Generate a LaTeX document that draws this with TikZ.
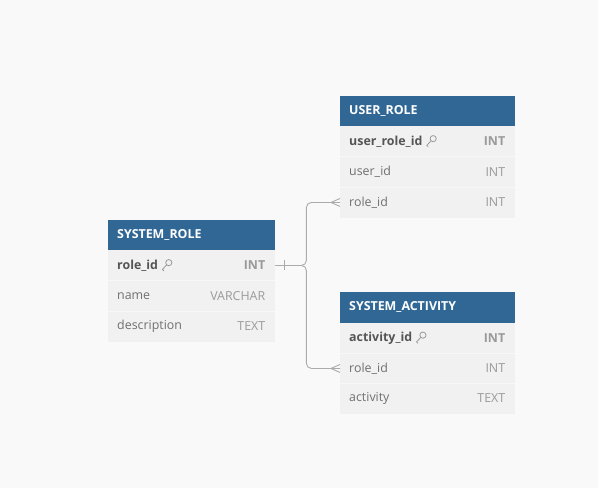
\documentclass[tikz,border=0pt]{standalone}
\usepackage{fontspec}
\setmainfont{Open Sans}
\usetikzlibrary{calc}
\definecolor{bgc}{HTML}{F9F9FA}
\definecolor{hdrc}{HTML}{316795}
\definecolor{rowc}{HTML}{F1F1F1}
\definecolor{sepc}{HTML}{F8F8F8}
\definecolor{keytxt}{HTML}{555555}
\definecolor{fldtxt}{HTML}{707070}
\definecolor{typtxt}{HTML}{9A9A9A}
\definecolor{connc}{HTML}{ABABAB}
\tikzset{
  hdr/.style={draw=none, fill=hdrc, text=white, font=\fontsize{12.4}{14}\selectfont\bfseries,
    minimum height=30.5pt, text width=149pt, inner xsep=9pt, inner ysep=0pt, align=left, anchor=north west},
  rowbox/.style={draw=none, fill=rowc, minimum width=167pt, minimum height=30.5pt, inner sep=0pt, anchor=north west},
  sepline/.style={draw=sepc, line width=0.8pt},
  fname/.style={anchor=west, inner sep=0pt, text=fldtxt, font=\fontsize{12.4}{14}\selectfont},
  kname/.style={fname, text=keytxt, font=\fontsize{12.4}{14}\selectfont\bfseries},
  ftype/.style={anchor=east, inner sep=0pt, text=typtxt, font=\fontsize{12.4}{14}\selectfont},
  ktype/.style={ftype, font=\fontsize{12.4}{14}\selectfont\bfseries},
  conn/.style={draw=connc, line width=0.9pt, rounded corners=5pt},
  relmark/.style={draw=connc, line width=0.9pt},
  keyicon/.pic={
    \draw[draw=typtxt, line width=0.8pt] (7,-2.8) circle (3.1);
    \draw[draw=typtxt, line width=0.8pt, line cap=round] (4.8,-0.6) -- (0.6,4) -- (2,5.4);
  }
}
\begin{document}
\begin{tikzpicture}[x=1pt,y=-1pt]
\fill[bgc] (0,0) rectangle (598,488);
\useasboundingbox (0,0) rectangle (598,488);

% SYSTEM_ROLE
\node[hdr] (sr) at (108,219.5) {SYSTEM\_ROLE};
\node[rowbox] (sr1) at (108,250) {};
\node[rowbox] (sr2) at (108,280.5) {};
\node[rowbox] (sr3) at (108,311) {};
\draw[sepline] (sr2.north west) -- (sr2.north east);
\draw[sepline] (sr3.north west) -- (sr3.north east);
\node[kname] (sr1n) at ($(sr1.west)+(9,0)$) {role\_id};
\pic at ($(sr1n.east)+(3.5,0)$) {keyicon};
\node[ktype] (sr1t) at ($(sr1.east)+(-10,0)$) {INT};
\node[fname] (sr2n) at ($(sr2.west)+(9,0)$) {name};
\node[ftype] (sr2t) at ($(sr2.east)+(-10,0)$) {VARCHAR};
\node[fname] (sr3n) at ($(sr3.west)+(9,0)$) {description};
\node[ftype] (sr3t) at ($(sr3.east)+(-10,0)$) {TEXT};

% USER_ROLE
\node[hdr, text width=157pt] (ur) at (340,95.5) {USER\_ROLE};
\node[rowbox, minimum width=175pt] (ur1) at (340,126) {};
\node[rowbox, minimum width=175pt] (ur2) at (340,156.5) {};
\node[rowbox, minimum width=175pt] (ur3) at (340,187) {};
\draw[sepline] (ur2.north west) -- (ur2.north east);
\draw[sepline] (ur3.north west) -- (ur3.north east);
\node[kname] (ur1n) at ($(ur1.west)+(9,0)$) {user\_role\_id};
\pic at ($(ur1n.east)+(3.5,0)$) {keyicon};
\node[ktype] (ur1t) at ($(ur1.east)+(-10,0)$) {INT};
\node[fname] (ur2n) at ($(ur2.west)+(9,0)$) {user\_id};
\node[ftype] (ur2t) at ($(ur2.east)+(-10,0)$) {INT};
\node[fname] (ur3n) at ($(ur3.west)+(9,0)$) {role\_id};
\node[ftype] (ur3t) at ($(ur3.east)+(-10,0)$) {INT};

% SYSTEM_ACTIVITY
\node[hdr, text width=157pt] (sa) at (340,292) {SYSTEM\_ACTIVITY};
\node[rowbox, minimum width=175pt] (sa1) at (340,322.5) {};
\node[rowbox, minimum width=175pt] (sa2) at (340,353) {};
\node[rowbox, minimum width=175pt] (sa3) at (340,383) {};
\draw[sepline] (sa2.north west) -- (sa2.north east);
\draw[sepline] (sa3.north west) -- (sa3.north east);
\node[kname] (sa1n) at ($(sa1.west)+(9,0)$) {activity\_id};
\pic at ($(sa1n.east)+(3.5,0)$) {keyicon};
\node[ktype] (sa1t) at ($(sa1.east)+(-10,0)$) {INT};
\node[fname] (sa2n) at ($(sa2.west)+(9,0)$) {role\_id};
\node[ftype] (sa2t) at ($(sa2.east)+(-10,0)$) {INT};
\node[fname] (sa3n) at ($(sa3.west)+(9,0)$) {activity};
\node[ftype] (sa3t) at ($(sa3.east)+(-10,0)$) {TEXT};

% connectors
\draw[conn] (sr1.east) -- ++(31,0) |- (ur3.west);
\draw[conn] (sr1.east) -- ++(31,0) |- (sa2.west);
\draw[relmark] ($(sr1.east)+(9,-5)$) -- ($(sr1.east)+(9,5)$);
\draw[relmark] ($(ur3.west)+(0,-4)$) -- ($(ur3.west)+(-9,0)$) -- ($(ur3.west)+(0,4)$);
\draw[relmark] ($(sa2.west)+(0,-4)$) -- ($(sa2.west)+(-9,0)$) -- ($(sa2.west)+(0,4)$);
\end{tikzpicture}
\end{document}
